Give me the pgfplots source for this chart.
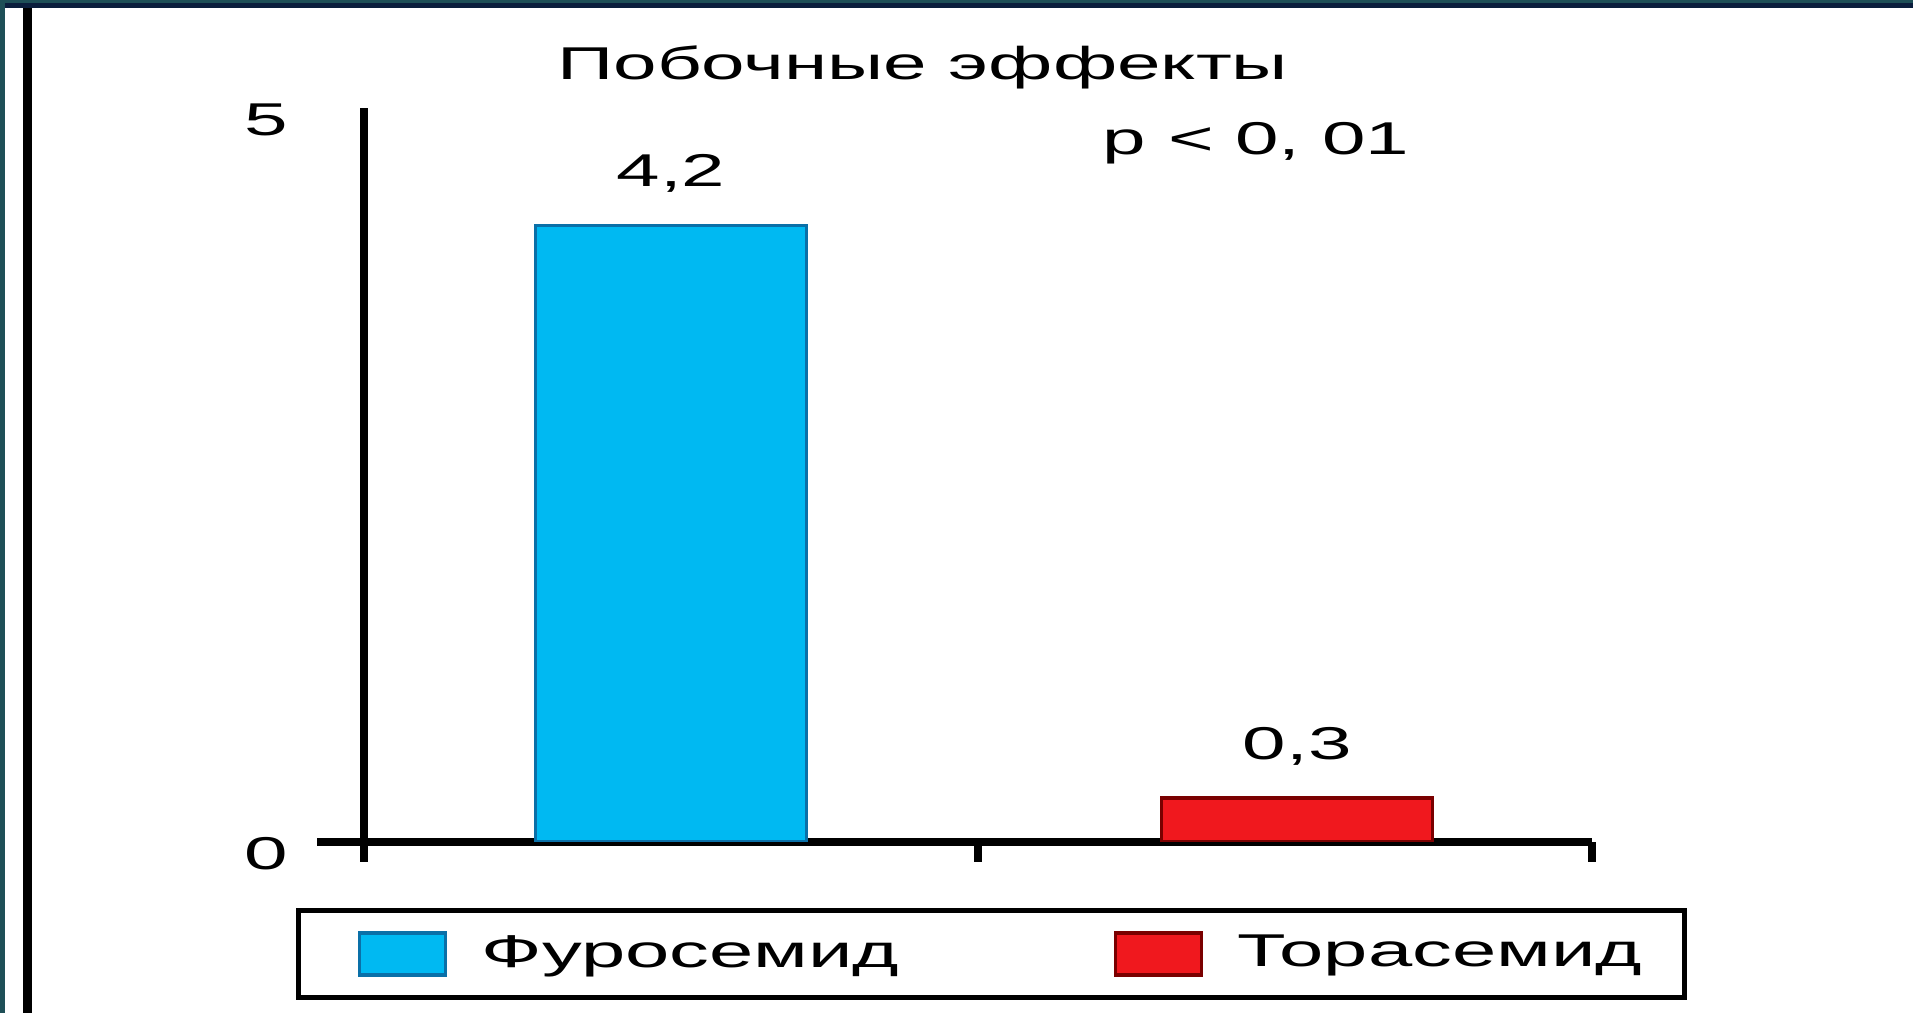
\documentclass[border=0pt]{standalone}
\usepackage{fontspec}
\setmainfont{Liberation Sans}
\usepackage{graphicx}
\usepackage{pgfplots}
\pgfplotsset{compat=1.18}
\definecolor{barblue}{RGB}{0,185,242}
\definecolor{barblueedge}{RGB}{10,112,168}
\definecolor{barred}{RGB}{240,24,30}
\definecolor{barrededge}{RGB}{122,0,0}
\definecolor{frameteal}{RGB}{30,79,87}
\definecolor{framenavy}{RGB}{11,30,61}
\newcommand\st[1]{\scalebox{1.7}[1]{#1}}
\newcommand\stl[1]{\scalebox{1.73}[1]{#1}}
\newcommand\fs{\fontsize{11.5}{13}\selectfont}
\begin{document}
\begin{tikzpicture}
\path[use as bounding box, fill=white] (0,0) rectangle (478.25pt,253.25pt);
\fill[frameteal] (0,0) rectangle (1.25pt,253.25pt);
\fill[frameteal] (0,252.5pt) rectangle (478.25pt,253.25pt);
\fill[framenavy] (1.25pt,251.25pt) rectangle (478.25pt,252.5pt);
\fill[black] (5.75pt,0) rectangle (8pt,251.25pt);
\begin{axis}[
  at={(91pt,42.75pt)}, anchor=south west,
  scale only axis, width=307pt, height=183.5pt,
  xmin=0.5, xmax=2.5, ymin=0, ymax=5,
  axis x line=bottom, axis y line=left,
  axis line style={-, line width=1.8pt, black},
  x axis line style={shorten <=-11.75pt},
  tick align=outside, major tick length=5pt,
  xtick={0.5,1.5,2.5}, xticklabels={},
  xtick style={line width=1.8pt, black},
  ytick={0,5}, yticklabels={\st{0},\st{5}},
  ytick style={draw=none},
  yticklabel style={anchor=center, xshift=-19.5pt, yshift=-3pt, font=\fs},
  ybar, bar width=67.75pt, bar shift=0pt,
  point meta=explicit symbolic,
  nodes near coords={\st{\pgfplotspointmeta}},
  every node near coord/.append style={font=\fs, anchor=center, yshift=13pt, black},
  title={\st{Побочные эффекты}},
  title style={at={(0.455,1.055)}, anchor=center, yshift=-6pt, font=\fs},
  legend columns=2,
  legend image code/.code={\path (-4.3pt,0pt); \draw[#1, line width=0.8pt] (0pt,-5.25pt) rectangle (21.5pt,5.25pt);},
  legend style={at={(0.511,-0.1527)}, anchor=center, draw=black, line width=1.25pt,
    font=\fs, inner xsep=10.6pt, inner ysep=5.2pt,
    nodes={inner sep=0pt},
    /tikz/every odd column/.append style={column sep=8.6pt},
    /tikz/every even column/.append style={column sep=49.25pt}},
]
\addplot[fill=barblue, draw=barblueedge, line width=0.8pt] coordinates {(1,4.2) [4,2]};
\addlegendentry{\stl{Фуросемид}}
\addplot[fill=barred, draw=barrededge, line width=0.8pt] coordinates {(2.02,0.3) [0,3]};
\addlegendentry{\stl{Торасемид}}
\node[font=\fs, anchor=center] at (axis cs:1.953,4.76) {\st{p < 0, 01}};
\end{axis}
\end{tikzpicture}
\end{document}
